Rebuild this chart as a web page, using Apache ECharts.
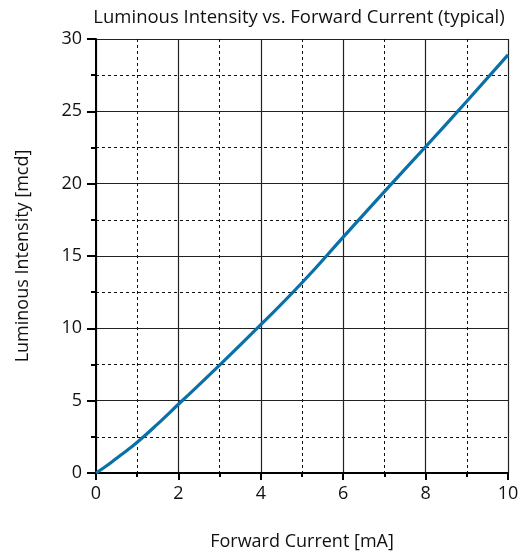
<!DOCTYPE html>
<html>
    <head>
        <meta charset="UTF-8" />
        <script src="https://cdn.jsdelivr.net/npm/echarts@6/dist/echarts.min.js"></script>
    </head>
    <body style="margin:0">
        <div id="main" style="width: 532px; height: 555px"></div>
        <script type="text/javascript">
            // values
            var current = [0, 0.25, 0.5, 0.75, 1, 1.5, 2, 3, 4, 5, 6, 7, 8, 9, 10];
            var intensity = [0, 0.48, 1.02, 1.56, 2.12, 3.4, 4.75, 7.45, 10.25, 13.15, 16.3, 19.45, 22.55, 25.7, 28.9];

            var points = current.map(function (c, i) { return [c, intensity[i]]; });

            var chartDom = document.getElementById("main");
            var myChart = echarts.init(chartDom);
            var fontFam = "Open Sans";
            var option = {
                backgroundColor: '#fff',
                animation: false,
                title: {
                    text: 'Luminous Intensity vs. Forward Current (typical)',
                    left: 294,
                    top: 3,
                    textAlign: 'center',
                    textStyle: { fontFamily: fontFam, fontSize: 18.5, fontWeight: 'normal', color: '#111' }
                },
                grid: { left: 96, right: 24, top: 39, bottom: 82, outerBoundsMode: 'none' },
                xAxis: {
                    type: 'value',
                    min: 0, max: 10, interval: 2,
                    name: 'Forward Current [mA]',
                    nameLocation: 'middle',
                    nameGap: 60,
                    nameTextStyle: { fontFamily: fontFam, fontSize: 18, color: '#111' },
                    axisLine: { lineStyle: { color: '#000', width: 2 } },
                    axisTick: { length: 7, lineStyle: { color: '#000', width: 2 } },
                    minorTick: { show: true, splitNumber: 2, length: 4, lineStyle: { color: '#000', width: 2 } },
                    axisLabel: { margin: 12, fontFamily: fontFam, fontSize: 18, color: '#111' },
                    splitLine: { show: true, lineStyle: { color: '#222', width: 1.2 } },
                    minorSplitLine: { show: true, lineStyle: { color: '#111', width: 1, type: [3, 3] } }
                },
                yAxis: {
                    type: 'value',
                    min: 0, max: 30, interval: 5,
                    name: 'Luminous Intensity [mcd]',
                    nameLocation: 'middle',
                    nameGap: 64,
                    nameTextStyle: { fontFamily: fontFam, fontSize: 18, color: '#111' },
                    axisLine: { show: true, lineStyle: { color: '#000', width: 2 } },
                    axisTick: { show: true, length: 9, lineStyle: { color: '#000', width: 2 } },
                    minorTick: { show: true, splitNumber: 2, length: 5, lineStyle: { color: '#000', width: 2 } },
                    axisLabel: { margin: 14, fontFamily: fontFam, fontSize: 18, color: '#111' },
                    splitLine: { show: true, lineStyle: { color: '#222', width: 1.2 } },
                    minorSplitLine: { show: true, lineStyle: { color: '#111', width: 1, type: [3, 3] } }
                },
                series: [
                    {
                        name: 'typical',
                        type: 'line',
                        smooth: 0.5,
                        symbol: 'none',
                        lineStyle: { color: '#0a70a8', width: 3.2 },
                        data: points
                    }
                ]
            };
            option && myChart.setOption(option);
        </script>
    </body>
</html>
